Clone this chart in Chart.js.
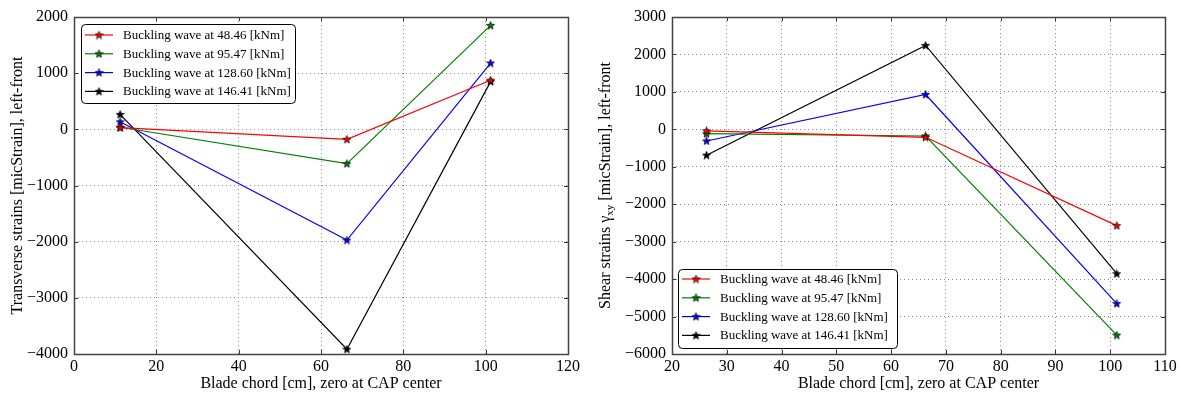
<!DOCTYPE html>
<html><head><meta charset="utf-8">
<script src="https://cdn.jsdelivr.net/npm/chart.js@4"></script>
<style>
html,body{margin:0;padding:0;background:#fff;width:1181px;height:397px;overflow:hidden}
#l{position:absolute;left:0;top:0;width:590px;height:397px}
#r{position:absolute;left:590px;top:0;width:591px;height:397px}
</style></head><body>
<div id="l"><canvas id="cl"></canvas></div>
<div id="r"><canvas id="cr"></canvas></div>
<script>
// ---------- data ----------
const seriesLabels = ['Buckling wave at 48.46 [kNm]','Buckling wave at 95.47 [kNm]','Buckling wave at 128.60 [kNm]','Buckling wave at 146.41 [kNm]'];
const seriesColors = ['#ff0000','#008000','#0000ff','#000000'];

const chordLeft = [11.2, 66.3, 101.2];
const transverse48 = [30, -178, 875];
const transverse95 = [37, -611, 1850];
const transverse128 = [135, -1972, 1180];
const transverse146 = [266, -3915, 850];

const chordRight = [26.3, 66.3, 101.2];
const shear48 = [-40, -213, -2572];
const shear95 = [-117, -178, -5497];
const shear128 = [-311, 931, -4654];
const shear146 = [-691, 2242, -3856];

const leftXTicks = {min:0, max:120, step:20};
const leftYTicks = {min:-4000, max:2000, step:1000};
const rightXTicks = {min:20, max:110, step:10};
const rightYTicks = {min:-6000, max:3000, step:1000};

const FONT = '"Liberation Serif","DejaVu Serif",serif';

function makeStar(color){
  const c = document.createElement('canvas');
  c.width = 9; c.height = 9;
  const g = c.getContext('2d');
  const cx = 4.5, cy = 4.8, R = 4.2, r = 1.8;
  g.beginPath();
  for (let i=0;i<10;i++){
    const a = -Math.PI/2 + i*Math.PI/5;
    const rad = i%2===0 ? R : r;
    const px = cx + rad*Math.cos(a), py = cy + rad*Math.sin(a);
    if (i===0) g.moveTo(px,py); else g.lineTo(px,py);
  }
  g.closePath();
  g.fillStyle = color; g.fill();
  g.lineWidth = 0.7; g.strokeStyle = '#000'; g.stroke();
  return c;
}
const stars = seriesColors.map(makeStar);

function toPoints(xs, ys){ return xs.map((x,i)=>({x:x, y:ys[i]})); }
function fmt(v){ return String(v).replace('-', '\u2212'); }

function makeDatasets(xs, list){
  return list.map((ys,i)=>({
    label: seriesLabels[i],
    data: toPoints(xs, ys),
    borderColor: seriesColors[i],
    backgroundColor: seriesColors[i],
    borderWidth: 1.2,
    pointStyle: stars[i],
    pointRadius: 4,
    tension: 0,
    fill: false
  }));
}

function framePlugin(opts){
  return {
    id: 'frame'+opts.id,
    afterDraw(chart){
      const ctx = chart.ctx, a = chart.chartArea;
      ctx.save();
      ctx.strokeStyle = '#333'; ctx.lineWidth = 1;
      const xs = chart.scales.x, ys = chart.scales.y;
      xs.ticks.forEach(t=>{
        const px = Math.round(xs.getPixelForValue(t.value)) + 0.5;
        ctx.beginPath();
        ctx.moveTo(px, a.bottom); ctx.lineTo(px, a.bottom - 4);
        ctx.moveTo(px, a.top); ctx.lineTo(px, a.top + 4);
        ctx.stroke();
      });
      ys.ticks.forEach(t=>{
        const py = Math.round(ys.getPixelForValue(t.value)) + 0.5;
        ctx.beginPath();
        ctx.moveTo(a.left, py); ctx.lineTo(a.left + 4, py);
        ctx.moveTo(a.right, py); ctx.lineTo(a.right - 4, py);
        ctx.stroke();
      });
      ctx.strokeStyle = '#444'; ctx.lineWidth = 1.5;
      ctx.strokeRect(Math.round(a.left)+0.5, Math.round(a.top)+0.5, Math.round(a.right-a.left), Math.round(a.bottom-a.top));
      ctx.fillStyle = '#000';
      ctx.textBaseline = 'middle';
      const parts = opts.yTitle;
      let total = 0;
      const widths = parts.map(p => { ctx.font = (p.sub? '11px ' : '16px ') + FONT; const w = ctx.measureText(p.t).width; total += w; return w; });
      ctx.translate(opts.yTitleX, (a.top + a.bottom)/2);
      ctx.rotate(-Math.PI/2);
      let x = -total/2;
      parts.forEach((p,i)=>{
        ctx.font = (p.sub? '11px ' : '16px ') + FONT;
        ctx.textAlign = 'left';
        ctx.fillText(p.t, x, p.sub ? 4 : 0);
        x += widths[i];
      });
      ctx.restore();
      const L = opts.legend;
      ctx.save();
      ctx.fillStyle = '#fff'; ctx.strokeStyle = '#000'; ctx.lineWidth = 1;
      ctx.beginPath();
      ctx.roundRect ? ctx.roundRect(L.x+0.5, L.y+0.5, L.w, L.h, 4) : ctx.rect(L.x+0.5, L.y+0.5, L.w, L.h);
      ctx.fill(); ctx.stroke();
      ctx.font = '13px ' + FONT; ctx.textBaseline = 'middle'; ctx.textAlign = 'left';
      chart.data.datasets.forEach((ds,i)=>{
        const y = L.y + L.firstRow + i*L.rowGap;
        ctx.strokeStyle = ds.borderColor; ctx.lineWidth = 1.2;
        ctx.beginPath(); ctx.moveTo(L.x + 4, y); ctx.lineTo(L.x + 32, y); ctx.stroke();
        ctx.drawImage(stars[i], L.x + 18 - 4.5, y - 4.5);
        ctx.fillStyle = '#000';
        ctx.fillText(ds.label, L.x + 42, y + 0.5);
      });
      ctx.restore();
    }
  };
}

function makeOptions(xT, yT, yWidth, padRight, xTitle){
  const tickFont = {family: FONT, size: 16};
  return {
    responsive: true, maintainAspectRatio: false, animation: false,
    layout: {padding: {top: 17, right: padRight, left: 0, bottom: 0}},
    plugins: {legend: {display: false}, tooltip: {enabled: false}},
    scales: {
      x: {
        type: 'linear', min: xT.min, max: xT.max,
        ticks: {stepSize: xT.step, color: '#000', font: tickFont, padding: 3, maxRotation: 0, callback: fmt},
        grid: {color: '#8a8a8a', lineWidth: 1, drawTicks: false, tickLength: 0},
        border: {display: false, dash: [1,3]},
        title: {display: true, text: xTitle, color: '#000', font: {family: FONT, size: 16}, padding: {top: 0, bottom: 4}},
        afterFit(s){ s.height = 43; }
      },
      y: {
        type: 'linear', min: yT.min, max: yT.max,
        ticks: {stepSize: yT.step, color: '#000', font: tickFont, padding: 6, callback: fmt},
        grid: {color: '#8a8a8a', lineWidth: 1, drawTicks: false, tickLength: 0},
        border: {display: false, dash: [1,3]},
        afterFit(s){ s.width = yWidth; }
      }
    }
  };
}

new Chart(document.getElementById('cl'), {
  type: 'line',
  data: {datasets: makeDatasets(chordLeft, [transverse48, transverse95, transverse128, transverse146])},
  options: makeOptions(leftXTicks, leftYTicks, 74, 22, 'Blade chord [cm], zero at CAP center'),
  plugins: [framePlugin({id:'L', yTitleX: 18,
    yTitle: [{t:'Transverse strains [micStrain], left-front'}],
    legend: {x: 81, y: 24, w: 214, h: 79, firstRow: 11, rowGap: 18.8}})]
});

new Chart(document.getElementById('cr'), {
  type: 'line',
  data: {datasets: makeDatasets(chordRight, [shear48, shear95, shear128, shear146])},
  options: makeOptions(rightXTicks, rightYTicks, 82, 16, 'Blade chord [cm], zero at CAP center'),
  plugins: [framePlugin({id:'R', yTitleX: 16,
    yTitle: [{t:'Shear strains \u03B3'},{t:'xy',sub:true},{t:' [micStrain], left-front'}],
    legend: {x: 88, y: 269, w: 219, h: 79, firstRow: 10, rowGap: 18.8}})]
});
</script>
</body></html>
